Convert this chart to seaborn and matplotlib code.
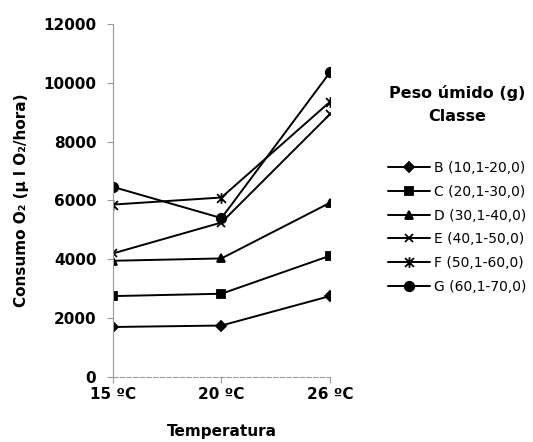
import pandas as pd
import matplotlib.pyplot as plt
import seaborn as sns
from matplotlib.path import Path

# values (µl O2/hora)
temperaturas = ['15 ºC', '20 ºC', '26 ºC']
classes = ['B (10,1-20,0)', 'C (20,1-30,0)', 'D (30,1-40,0)',
           'E (40,1-50,0)', 'F (50,1-60,0)', 'G (60,1-70,0)']
cons_B = [1700, 1750, 2750]
cons_C = [2750, 2830, 4120]
cons_D = [3950, 4030, 5920]
cons_E = [4200, 5250, 8930]
cons_F = [5860, 6100, 9350]
cons_G = [6460, 5400, 10350]

rows = []
for c, vals in zip(classes, [cons_B, cons_C, cons_D, cons_E, cons_F, cons_G]):
    for t, v in zip(temperaturas, vals):
        rows.append({'Temperatura': t, 'Classe': c, 'Consumo': v})
df = pd.DataFrame(rows)

# excel-like asterisk: x with a vertical bar
star = Path([(-1, -1), (1, 1), (-1, 1), (1, -1), (0, -1.2), (0, 1.2)],
            [Path.MOVETO, Path.LINETO, Path.MOVETO, Path.LINETO, Path.MOVETO, Path.LINETO])
markers = ['D', 's', '^', 'x', star, 'o']
msizes = [6, 7, 7.5, 7.5, 9, 8]

sns.set_style('white')
plt.rcParams['font.family'] = ['DejaVu Sans']
plt.rcParams['text.color'] = 'black'
plt.rcParams['axes.labelcolor'] = 'black'
plt.rcParams['xtick.labelcolor'] = 'black'
plt.rcParams['ytick.labelcolor'] = 'black'

fig = plt.figure(figsize=(5.33, 4.42), dpi=100)
ax = fig.add_axes([0.212, 0.147, 0.407, 0.799])

for c, m, ms in zip(classes, markers, msizes):
    sns.lineplot(data=df[df['Classe'] == c], x='Temperatura', y='Consumo',
                 color='black', marker=m, markersize=ms, markeredgecolor='black',
                 markeredgewidth=1.3, linewidth=1.4, label=c, ax=ax)

handles, labels = ax.get_legend_handles_labels()
ax.get_legend().remove()
for h, ms in zip(handles, msizes):
    h.set_markersize(ms * 0.85)
leg = fig.legend(handles, labels, loc='upper left', bbox_to_anchor=(0.705, 0.835),
                 frameon=False, fontsize=10, handlelength=3.0, handletextpad=0.3,
                 labelspacing=0.7, title='Peso úmido (g)\nClasse', alignment='center',
                 title_fontproperties={'weight': 'bold', 'size': 11.5})
leg.get_title().set_multialignment('center')
leg.get_title().set_linespacing(1.6)
leg._legend_box.sep = 27

ax.set_ylim(0, 12000)
ax.set_xlim(0, 2)
ax.set_yticks(range(0, 12001, 2000))
ax.set_xlabel('Temperatura', fontsize=11, fontweight='bold', labelpad=16)
ax.set_ylabel('Consumo O₂ (µ l O₂/hora)', fontsize=11, fontweight='bold', labelpad=10)

for s in ['top', 'right']:
    ax.spines[s].set_visible(False)
ax.spines['left'].set_color('#999999')
ax.spines['left'].set_linewidth(0.8)
ax.spines['bottom'].set_color('#999999')
ax.spines['bottom'].set_linestyle((0, (4, 2)))
ax.spines['bottom'].set_linewidth(0.8)
ax.tick_params(axis='both', labelsize=11, length=4, color='#999999', width=0.8)
ax.tick_params(axis='y', pad=8, direction='out', left=True)
ax.tick_params(axis='x', pad=3, bottom=True)
for lbl in ax.get_xticklabels() + ax.get_yticklabels():
    lbl.set_fontweight('bold')

plt.savefig('out.png', dpi=100)
